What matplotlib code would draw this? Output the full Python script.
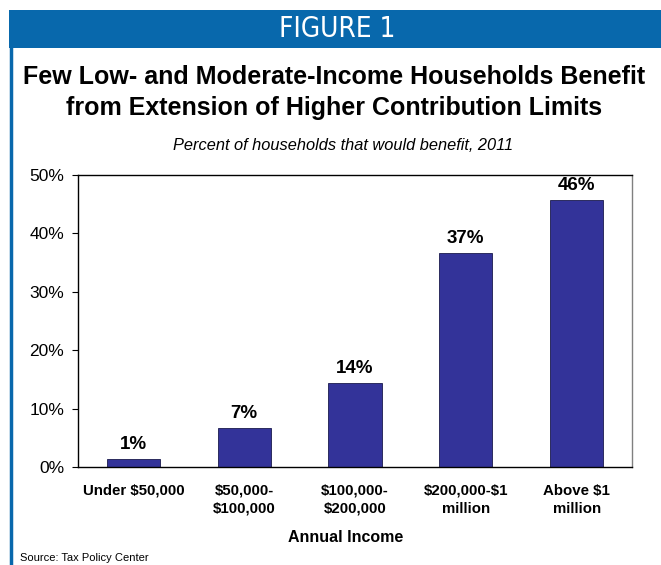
import matplotlib
matplotlib.use("Agg")
import matplotlib.pyplot as plt
from matplotlib.patches import Rectangle
from matplotlib.lines import Line2D

categories = ["Under $50,000", "$50,000-\n$100,000", "$100,000-\n$200,000", "$200,000-$1\nmillion", "Above $1\nmillion"]
values = [1.4, 6.7, 14.4, 36.6, 45.7]
value_labels = ["1%", "7%", "14%", "37%", "46%"]
yticks = [0, 10, 20, 30, 40, 50]

plt.rcParams['text.parse_math'] = False
plt.rcParams['font.family'] = ['Liberation Sans', 'DejaVu Sans']

W, H = 661, 565
fig = plt.figure(figsize=(W / 100, H / 100), dpi=100)

def fx(x): return x / W
def fy(y): return 1 - y / H

# banner
fig.patches.append(Rectangle((fx(9), fy(48)), fx(W - 9), (48 - 10) / H, transform=fig.transFigure,
                             facecolor="#0868AC", edgecolor="none"))
fig.lines.append(Line2D([fx(11), fx(11)], [fy(48), 0], transform=fig.transFigure, color="#0868AC", lw=2.5))
fig.text(fx(337), fy(29), "FIGURE 1", color="white", fontsize=20, ha="center", va="center",
         family="DejaVu Sans", fontstretch="condensed")

fig.text(fx(334), fy(77), "Few Low- and Moderate-Income Households Benefit", fontsize=18, fontweight="bold",
         ha="center", va="center")
fig.text(fx(334), fy(108), "from Extension of Higher Contribution Limits", fontsize=18, fontweight="bold",
         ha="center", va="center")
fig.text(fx(343), fy(145), "Percent of households that would benefit, 2011", fontsize=11.8, style="italic",
         ha="center", va="center")

ax = fig.add_axes([fx(78), fy(467), (632 - 78) / W, (467 - 175) / H])
x = list(range(len(categories)))
ax.bar(x, values, width=0.48, color="#333399", edgecolor="#1a1a4d", linewidth=0.6)
for xi, v, lab in zip(x, values, value_labels):
    ax.text(xi, v + 1.0, lab, ha="center", va="bottom", fontsize=13.5, fontweight="bold")
ax.set_xlim(-0.5, len(categories) - 0.5)
ax.set_ylim(0, 50)
ax.set_yticks(yticks)
ax.set_yticklabels([f"{t}%" for t in yticks], fontsize=12.5)
ax.set_xticks(x)
ax.set_xticklabels(categories, fontsize=10.8, fontweight="bold", linespacing=1.35)
ax.tick_params(axis="x", length=0, pad=12)
ax.tick_params(axis="y", length=4, width=0.8, pad=6)
for s in ["left", "bottom", "top"]:
    ax.spines[s].set_color("black")
    ax.spines[s].set_linewidth(1)
ax.spines["right"].set_color("#808080")
ax.spines["right"].set_linewidth(1)

fig.text(fx(346), fy(537), "Annual Income", fontsize=11.5, fontweight="bold", ha="center", va="center")
fig.text(fx(20), fy(558), "Source: Tax Policy Center", fontsize=8, ha="left", va="center")

fig.savefig("out.png", dpi=100)
